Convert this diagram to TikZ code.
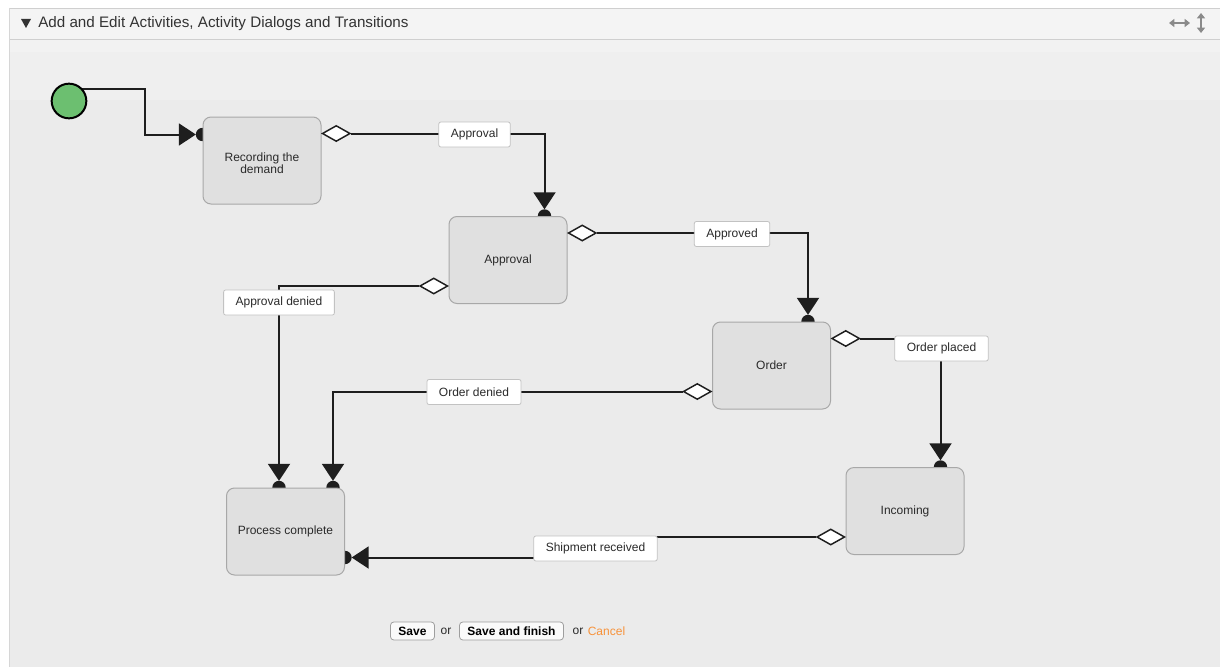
\documentclass[tikz,border=0pt]{standalone}
\usepackage{fontspec}
\setmainfont{Liberation Sans}
\usetikzlibrary{arrows.meta,shapes.geometric,calc}
\pgfdeclarelayer{bg}
\pgfdeclarelayer{lines}
\pgfsetlayers{bg,lines,main}
\definecolor{boxfill}{HTML}{E0E0E0}
\definecolor{boxborder}{HTML}{A8A8A8}
\definecolor{panelbg}{HTML}{EBEBEB}
\definecolor{panelmid}{HTML}{EFEFEF}
\definecolor{paneltop}{HTML}{F2F2F2}
\definecolor{headbg}{HTML}{F4F4F4}
\definecolor{rulecol}{HTML}{CFCFCF}
\definecolor{startgreen}{HTML}{6CBF70}
\definecolor{linecol}{HTML}{1E1E1E}
\definecolor{labelborder}{HTML}{C2C2C2}
\definecolor{cancelorange}{HTML}{F7923A}
\definecolor{txt}{HTML}{2A2A2A}
\definecolor{icongray}{HTML}{8A8A8A}
\begin{document}
\begin{tikzpicture}[x=0.75pt,y=-0.75pt,
  font=\fontsize{9}{10}\selectfont,
  act/.style={draw=boxborder, fill=boxfill, rounded corners=6pt, line width=0.75pt,
    minimum width=88.5pt, minimum height=65.25pt, inner sep=0pt, align=center, text=txt},
  dia/.style={diamond, draw=linecol, fill=white, line width=1.1pt,
    minimum width=21pt, minimum height=12pt, inner sep=0pt},
  conn/.style={draw=linecol, line width=1.5pt},
  arr/.style={conn, -{Triangle[width=16.5pt,length=12.75pt]}, shorten >=5pt},
  dot/.style={circle, fill=linecol, minimum size=10pt, inner sep=0pt},
  lbl/.style={draw=labelborder, fill=white, rounded corners=1.5pt, line width=0.6pt,
    inner xsep=9pt, inner ysep=0pt, minimum height=18.75pt, text=txt},
  btn/.style={draw=black!38, fill=black!2, rounded corners=2.5pt, line width=0.6pt,
    font=\bfseries\fontsize{9}{10}\selectfont, inner xsep=6pt, inner ysep=0pt,
    minimum height=13.5pt, text=black},
  plain/.style={inner sep=0pt, text=txt}]
\useasboundingbox (0,0) rectangle (1220,667);

% ---------- panel ----------
\begin{pgfonlayer}{bg}
  \fill[white] (0,0) rectangle (1220,667);
  \fill[headbg] (9,8) rectangle (1220,39);
  \fill[paneltop] (9,39) rectangle (1220,52);
  \fill[panelmid] (9,52) rectangle (1220,100);
  \fill[panelbg] (9,100) rectangle (1220,667);
  \draw[rulecol, line width=0.75pt] (9,8.5) -- (1220,8.5);
  \draw[rulecol, line width=0.75pt] (9,39.5) -- (1220,39.5);
  \draw[rulecol!85, line width=0.9pt] (9.5,8) -- (9.5,667);
\end{pgfonlayer}

% header
\fill[black!80] (21,19) -- (31,19) -- (26,28) -- cycle;
\node[anchor=west, plain, font=\fontsize{11.4}{13}\selectfont, text=black!80] (title) at (38,24)
  {Add and Edit Activities, Activity Dialogs and Transitions};
\draw[icongray, line width=1.4pt, {Triangle[width=6pt,length=4pt]}-{Triangle[width=6pt,length=4pt]}]
  (1169,23) -- (1190,23);
\draw[icongray, line width=1.4pt, {Triangle[width=6pt,length=4pt]}-{Triangle[width=6pt,length=4pt]}]
  (1201,13) -- (1201,33);

% ---------- activities ----------
\node[circle, draw=black, fill=startgreen, line width=1.5pt, minimum size=26pt, inner sep=0pt]
  (start) at (69,101) {};
\node[act] (rec)   at (262,160.5)
  {\raisebox{-3.5pt}[\height][\depth]{\begin{tabular}{@{}c@{}}Recording the\\[-1.2pt]demand\end{tabular}}};
\node[act] (appr)  at (508,260)   {Approval};
\node[act] (order) at (771.5,365.5) {Order};
\node[act] (inc)   at (905,511)   {Incoming};
\node[act] (done)  at (285.5,531.5) {Process complete};

% entry points
\coordinate (inRec)   at ($(rec.north west)+(0,18)$);
\coordinate (inAppr)  at ($(appr.north west)+(96,0)$);
\coordinate (inOrder) at ($(order.north west)+(96,0)$);
\coordinate (inInc)   at ($(inc.north west)+(95,0)$);
\coordinate (inDoneA) at ($(done.north west)+(53,0)$);
\coordinate (inDoneB) at ($(done.north west)+(107,0)$);
\coordinate (inDoneC) at ($(done.north east)+(0,70)$);

% exit diamonds
\node[dia, anchor=west] (d1) at ($(rec.north east)+(0,17)$) {};
\node[dia, anchor=west] (d2) at ($(appr.north east)+(0,17)$) {};
\node[dia, anchor=east] (d3) at ($(appr.north west)+(0,70)$) {};
\node[dia, anchor=east] (d4) at ($(order.north west)+(0,70)$) {};
\node[dia, anchor=west] (d5) at ($(order.north east)+(0,17)$) {};
\node[dia, anchor=east] (d6) at ($(inc.north west)+(0,70)$) {};

% ---------- connectors ----------
\begin{pgfonlayer}{lines}
  \node[dot] (dotRec)   at (inRec) {};
  \node[dot] (dotAppr)  at (inAppr) {};
  \node[dot] (dotOrder) at (inOrder) {};
  \node[dot] (dotInc)   at (inInc) {};
  \node[dot] (dotDoneA) at (inDoneA) {};
  \node[dot] (dotDoneB) at (inDoneB) {};
  \node[dot] (dotDoneC) at (inDoneC) {};
  \draw[arr] ([yshift=9pt]start.center) -| ($(inRec)+(-58,0)$) -- (inRec);
  \draw[arr] (d1.east) -| (inAppr);
  \draw[arr] (d2.east) -| (inOrder);
  \draw[arr] (d3.west) -| (inDoneA);
  \draw[arr] (d4.west) -| (inDoneB);
  \draw[arr] (d5.east) -| (inInc);
  \draw[arr] (d6.west) -| (595,548) |- (inDoneC);
\end{pgfonlayer}

% ---------- transition labels ----------
\node[lbl] (l1) at (474.5,134.5) {Approval};
\node[lbl] (l2) at (732,234)     {Approved};
\node[lbl] (l3) at (279,302.5)   {Approval denied};
\node[lbl] (l4) at (474,392)     {Order denied};
\node[lbl] (l5) at (941.5,348.5) {Order placed};
\node[lbl] (l6) at (595.5,548.5) {Shipment received};

% ---------- buttons ----------
\node[btn] (save)   at (412.5,631) {Save};
\node[plain] (or1)  at (446,631) {or};
\node[btn] (finish) at (511.5,631) {Save and finish};
\node[plain] (or2)  at (578,631) {or};
\node[plain, text=cancelorange] (cancel) at (606.5,631) {Cancel};
\end{tikzpicture}
\end{document}
